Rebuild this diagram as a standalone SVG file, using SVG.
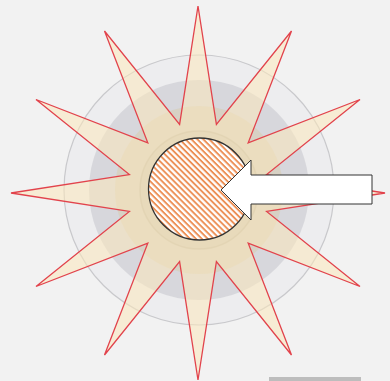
<svg xmlns="http://www.w3.org/2000/svg" width="390" height="381" viewBox="0 0 390 381">
  <style>
    .star { fill: #fbe8bb; fill-opacity: 0.55; stroke: #e2434c; stroke-width: 1.3; stroke-linejoin: miter; }
    .ring1 { fill: rgba(220,220,228,0.22); stroke: #c9c9cc; stroke-width: 1.2; }
    .ring2 { fill: rgba(150,150,165,0.25); }
    .ring3 { fill: rgba(215,200,160,0.4); }
    .ring4 { fill: rgba(185,175,150,0.22); stroke: rgba(175,165,140,0.4); stroke-width: 1.5; }
    .core { fill: url(#hatch); stroke: #333; stroke-width: 1.3; }
    .arrow { fill: #ffffff; stroke: #333; stroke-width: 1; stroke-linejoin: miter; }
  </style>
  <defs>
    <pattern id="hatch" patternUnits="userSpaceOnUse" width="6" height="4.2" patternTransform="rotate(45)">
      <rect width="6" height="4.2" fill="#ffffff"/>
      <rect width="6" height="1.9" fill="#ec8f55"/>
    </pattern>
  </defs>
  <rect width="390" height="381" fill="#f2f2f2"/>
  <g id="rings">
    <circle class="ring1" cx="199" cy="190" r="135"/>
    <circle class="ring2" cx="199" cy="190" r="110"/>
    <circle class="ring3" cx="199" cy="190" r="84"/>
    <circle class="ring4" cx="199" cy="190" r="59"/>
  </g>
  <g id="star">
    <polygon class="star" points="198,6 216.4,124.4 291.5,31 248.2,142.8 360,99.5 266.6,174.6 385,193 266.6,211.4 360,286.5 248.2,243.2 291.5,355 216.4,261.6 198,380 179.6,261.6 104.5,355 147.8,243.2 36,286.5 129.4,211.4 11,193 129.4,174.6 36,99.5 147.8,142.8 104.5,31 179.6,124.4"/>
  </g>
  <g id="core">
    <circle class="core" cx="199.5" cy="189" r="51"/>
  </g>
  <g id="connectors">
    <polygon class="arrow" points="221,190 251,160 251,175 372,175 372,204 251,204 251,220"/>
  </g>
  <g id="bar">
    <rect x="269" y="377" width="92" height="4" fill="#bdbdbd"/>
  </g>
</svg>
